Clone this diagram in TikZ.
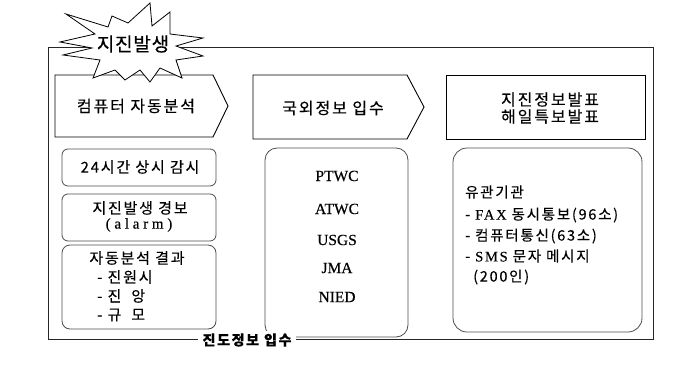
\documentclass[tikz,border=0pt]{standalone}
\usepackage{fontspec}
\setmainfont{Liberation Serif}[FakeBold=0.4]
\newfontfamily\kr[LetterSpace=12,FakeBold=0.3]{Noto Sans CJK KR}
\newfontfamily\krtitle[LetterSpace=4,FakeBold=0.6]{Noto Sans CJK KR}
\newfontfamily\latw[LetterSpace=12,FakeBold=0.3]{Liberation Serif}
\newfontfamily\latwide[LetterSpace=25,FakeBold=0.3]{Liberation Serif}
\begin{document}
\begin{tikzpicture}[x=1pt,y=-1pt,line join=miter]
\useasboundingbox (0,0) rectangle (687,372);
\tikzset{
  frameline/.style={draw=black!85,line width=1pt},
  headbox/.style={draw=black,line width=0.9pt,fill=white},
  roundbox/.style={draw=black!70,line width=0.8pt},
  ht/.style={font=\kr\fontsize{16}{17}\selectfont,inner sep=0pt,align=center},
  kt/.style={font=\kr\fontsize{15}{16}\selectfont,inner sep=0pt},
  rt/.style={font=\kr\fontsize{14.5}{16}\selectfont,inner sep=0pt,anchor=west},
  lt/.style={font=\fontsize{15.5}{17}\selectfont,inner sep=0pt},
}
% outer frame
\draw[frameline] (48,47) rectangle (653,339);
% header shapes
\draw[headbox] (55,75) -- (213,75) -- (228,106) -- (213,137) -- (55,137) -- cycle;
\node[ht] (h1) at (136,106) {컴퓨터 자동분석};
\draw[headbox] (253,75) -- (407,75) -- (424,107) -- (407,139) -- (253,139) -- cycle;
\node[ht] (h2) at (333,108) {국외정보 입수};
\draw[headbox] (446,75) rectangle (645,139);
\node[ht] (h3) at (550,108) {지진정보발표\\해일특보발표};
% left column boxes
\draw[roundbox,rounded corners=6pt] (62,149) rectangle (216,186);
\node[kt] (a1) at (140,167) {24시간 상시 감시};
\draw[roundbox,rounded corners=6pt] (62,194) rectangle (216,241);
\node[kt] (a2) at (140,208) {지진발생 경보};
\node[font=\latwide\fontsize{15}{16}\selectfont,inner sep=0pt] (a3) at (139,225) {(alarm)};
\draw[roundbox,rounded corners=8pt] (62,245) rectangle (216,329);
\node[kt] (a4) at (137,258) {자동분석 결과};
\node[kt,anchor=west] (a5) at (97,277) {- 진원시};
\node[kt,anchor=west] (a6) at (97,296) {- 진\hspace{10pt}앙};
\node[kt,anchor=west] (a7) at (97,315) {- 규\hspace{10pt}모};
% middle box
\draw[roundbox,rounded corners=12pt] (265,148) rectangle (408,337);
\node[lt] (m1) at (337,176) {PTWC};
\node[lt] (m2) at (337,209) {ATWC};
\node[lt] (m3) at (337,240) {USGS};
\node[lt] (m4) at (337,268) {JMA};
\node[lt] (m5) at (337,297) {NIED};
% right box
\draw[roundbox,rounded corners=14pt] (453,148) rectangle (642,332);
\node[rt] (r1) at (465,192) {유관기관};
\node[rt] (r2) at (465,215) {- {\latw\fontsize{14.5}{16}\selectfont FAX} 동시통보(96소)};
\node[rt] (r3) at (465,236) {- 컴퓨터통신(63소)};
\node[rt] (r4) at (465,256) {- {\latw\fontsize{14.5}{16}\selectfont SMS} 문자 메시지};
\node[rt] (r5) at (473,277) {(200인)};
% bottom label
\node[fill=white,inner xsep=5pt,inner ysep=2pt,font=\kr\bfseries\fontsize{14}{16}\selectfont] (lab) at (247,340) {진도정보 입수};
% starburst
\draw[fill=white,line width=0.8pt,draw=black]
  (60,42) -- (95,34) -- (66,14) -- (108,27) -- (112,16) -- (128,23) -- (150,3)
  -- (152,26) -- (170,12) -- (170,34) -- (203,38) -- (176,46) -- (203,56)
  -- (176,60) -- (182,78) -- (160,68) -- (150,82) -- (140,70) -- (125,80)
  -- (115,70) -- (93,78) -- (100,60) -- (63,55) -- (92,48) -- cycle;
\node[font=\krtitle\fontsize{19}{20}\selectfont,inner sep=0pt] (burst) at (133,44) {지진발생};
\end{tikzpicture}
\end{document}
